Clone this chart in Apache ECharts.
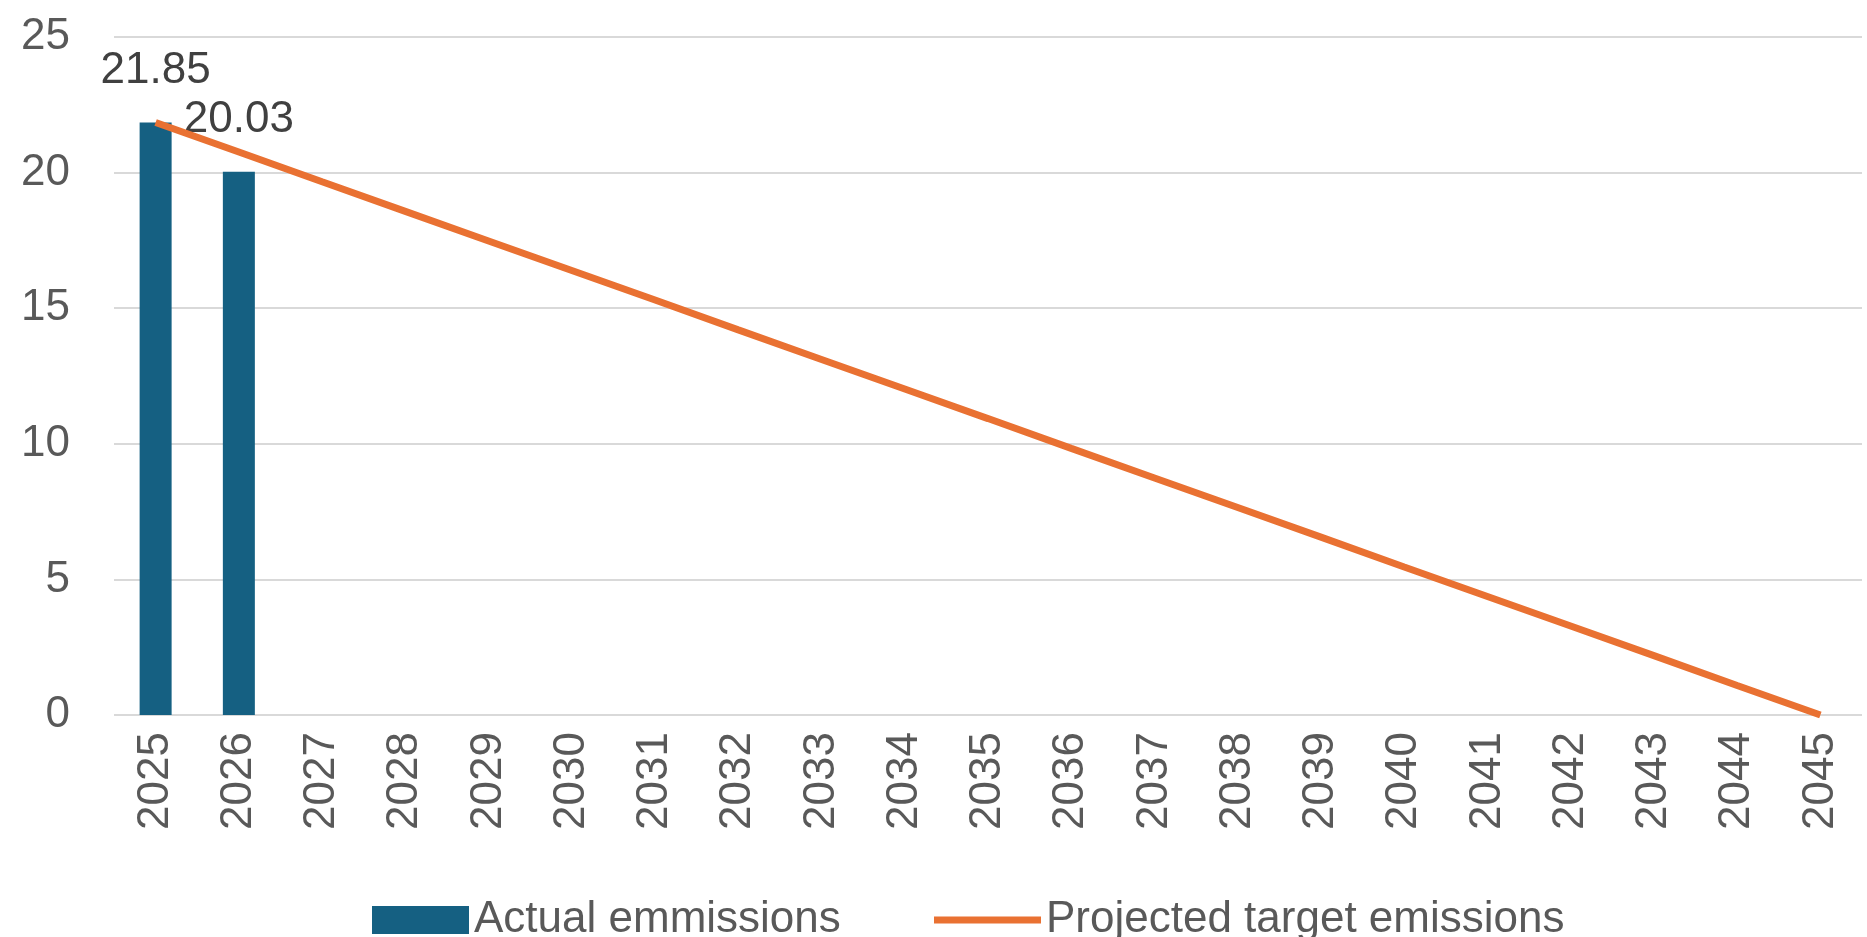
<!DOCTYPE html>
<html>
<head>
<meta charset="utf-8">
<script src="https://cdn.jsdelivr.net/npm/echarts@6/dist/echarts.min.js"></script>
<style>
html,body{margin:0;padding:0;background:#fff;}
#chart{width:1867px;height:937px;}
</style>
</head>
<body>
<div id="chart"></div>
<script>
const years = ['2025','2026','2027','2028','2029','2030','2031','2032','2033','2034','2035','2036','2037','2038','2039','2040','2041','2042','2043','2044','2045'];
const actualEmissions = [21.85, 20.03];
const projectedTarget = [21.85, 20.76, 19.66, 18.57, 17.48, 16.39, 15.30, 14.20, 13.11, 12.02, 10.93, 9.83, 8.74, 7.65, 6.56, 5.46, 4.37, 3.28, 2.19, 1.09, 0];
const seriesNames = ['Actual emmissions', 'Projected target emissions'];

const font = 'Liberation Sans';
const textColor = '#595959';
const chart = echarts.init(document.getElementById('chart'));
chart.setOption({
  backgroundColor: '#ffffff',
  animation: false,
  textStyle: { fontFamily: font },
  grid: { left: 114, right: 5, top: 37, bottom: 222, containLabel: false },
  legend: [
    {
      data: [seriesNames[0]], left: 367, top: 893, icon: 'rect',
      itemWidth: 97, itemHeight: 28, itemGap: 12,
      textStyle: { fontFamily: font, fontSize: 44, color: textColor, padding: [0, 0, 0, 0] }
    },
    {
      data: [seriesNames[1]], left: 929, top: 893, icon: 'rect',
      itemWidth: 107, itemHeight: 7, itemGap: 12,
      textStyle: { fontFamily: font, fontSize: 44, color: textColor }
    }
  ],
  xAxis: {
    type: 'category', data: years, boundaryGap: true,
    axisLine: { show: false }, axisTick: { show: false },
    axisLabel: { rotate: 90, fontFamily: font, fontSize: 44, color: textColor, margin: 17, interval: 0 }
  },
  yAxis: {
    type: 'value', min: 0, max: 25, interval: 5,
    axisLine: { show: false }, axisTick: { show: false },
    axisLabel: { fontFamily: font, fontSize: 44, color: textColor, margin: 44 },
    splitLine: { lineStyle: { color: '#d9d9d9', width: 2 } }
  },
  series: [
    {
      name: seriesNames[0], type: 'bar', data: actualEmissions, barWidth: 32,
      itemStyle: { color: '#156082' },
      label: { show: true, position: 'top', distance: 30, fontFamily: font, fontSize: 44, color: '#404040' }
    },
    {
      name: seriesNames[1], type: 'line', data: projectedTarget,
      symbol: 'none', showSymbol: false,
      lineStyle: { color: '#E97132', width: 7 },
      itemStyle: { color: '#E97132' }, z: 3
    }
  ]
});
</script>
</body>
</html>
